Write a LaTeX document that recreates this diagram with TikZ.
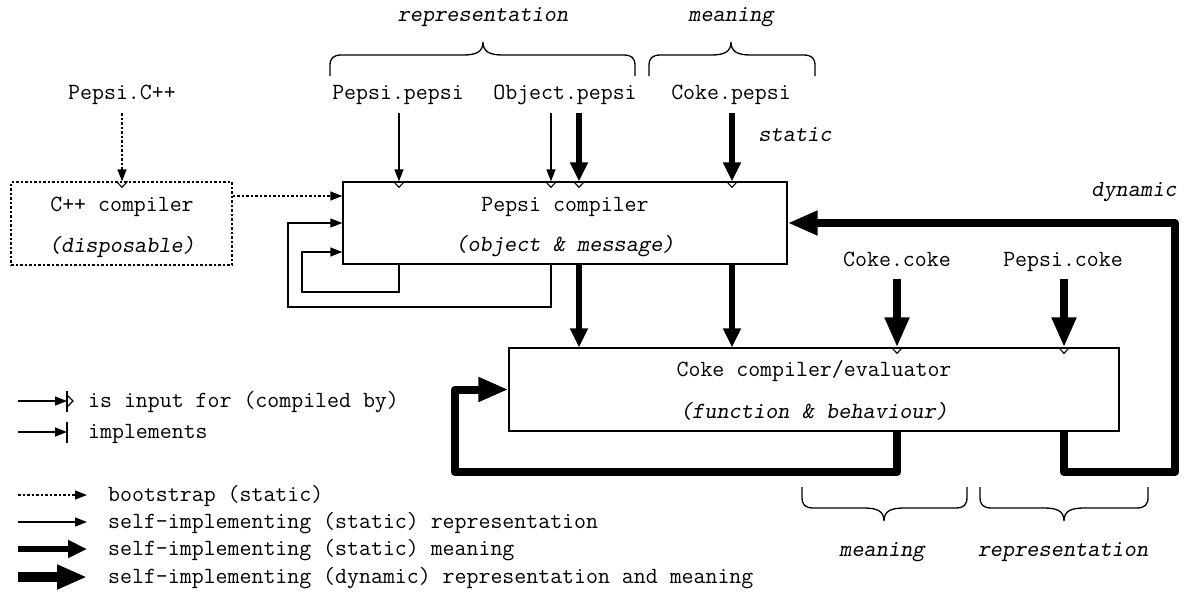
\documentclass[tikz,border=0pt]{standalone}
\usepackage{fontspec}
\newfontfamily\slmono{lmmonoslant10-regular.otf}
\usetikzlibrary{arrows.meta,calc}
\newcommand\bracefig[5]{% x1 xm x2 y0 s
 \draw[bracest] (#1,#4) -- (#1,{#4+(#5)*10}) .. controls (#1,{#4+(#5)*18}) and ({#1+3},{#4+(#5)*21}) .. ({#1+12},{#4+(#5)*21}) -- ({#2-20},{#4+(#5)*21}) .. controls ({#2-7},{#4+(#5)*21}) and (#2,{#4+(#5)*24}) .. (#2,{#4+(#5)*34}) .. controls (#2,{#4+(#5)*24}) and ({#2+7},{#4+(#5)*21}) .. ({#2+20},{#4+(#5)*21}) -- ({#3-12},{#4+(#5)*21}) .. controls ({#3-3},{#4+(#5)*21}) and (#3,{#4+(#5)*18}) .. (#3,{#4+(#5)*10}) -- (#3,#4);}
\begin{document}
\begin{tikzpicture}[x=1pt,y=-1pt,
  txt/.style={font=\ttfamily\fontsize{23.2}{26}\selectfont, inner sep=0pt, anchor=base},
  itxt/.style={txt, font=\slmono\fontsize{23.2}{26}\selectfont},
  ltxt/.style={txt, anchor=base west},
  box/.style={draw, line width=1.3pt, inner sep=0pt, fill=white},
  dotbox/.style={box, dash pattern=on 2.5pt off 2pt},
  thinarr/.style={line width=1.3pt, -{Triangle[length=12pt,width=9pt]}},
  dotarr/.style={thinarr, dash pattern=on 2.5pt off 2pt},
  medarr/.style={line width=5.5pt, -{Triangle[length=19pt,width=17pt]}},
  bigarr/.style={line width=8pt, line join=round, -{Triangle[length=30pt,width=23pt]}},
  legbig/.style={line width=9.5pt, -{Triangle[length=30pt,width=23pt]}},
  thinln/.style={line width=1.3pt},
  bracest/.style={line width=1.3pt},
  pics/notch/.style={code={\draw[line width=1.1pt] (-5.5,0) -- (0,6) -- (5.5,0);}}
]
\useasboundingbox (0,0) rectangle (1186,592);

% boxes
\node[box, minimum width=444pt, minimum height=82pt] (Pc) at (565,223) {};
\node[box, minimum width=610pt, minimum height=83pt] (Coke) at (814,389.5) {};
\node[dotbox, minimum width=221pt, minimum height=83pt] (Cxx) at (121.5,223.5) {};

\node[txt] (PcT1) at (565,211) {Pepsi compiler};
\node[itxt] (PcT2) at (565,251) {(object \& message)};
\node[txt] (CkT1) at (814,376) {Coke compiler/evaluator};
\node[itxt] (CkT2) at (814,418) {(function \& behaviour)};
\node[txt] (CxT1) at (122,211) {C++ compiler};
\node[itxt] (CxT2) at (122,252) {(disposable)};

% labels
\node[txt] (pcpp) at (122,99) {Pepsi.C++};
\node[txt] (pp) at (398,99) {Pepsi.pepsi};
\node[txt] (op) at (565,99) {Object.pepsi};
\node[txt] (cp) at (731,99) {Coke.pepsi};
\node[itxt] (rep1) at (483,21) {representation};
\node[itxt] (mean1) at (731,21) {meaning};
\node[itxt] (stat) at (795,141) {static};
\node[itxt] (dyn) at (1134,196) {dynamic};
\node[txt] (cc) at (897,266) {Coke.coke};
\node[txt] (pc) at (1063,266) {Pepsi.coke};
\node[itxt] (mean2) at (882,556) {meaning};
\node[itxt] (rep2) at (1063,556) {representation};

% braces
\bracefig{330}{483}{635}{76}{-1}
\bracefig{649}{731}{815}{76}{-1}
\bracefig{802}{884}{967}{487}{1}
\bracefig{980}{1064}{1148}{487}{1}

% start coordinates
\coordinate (s0) at ($(pcpp.base)+(0,14)$);
\coordinate (s1) at ($(pp.base)+(1,14)$);
\coordinate (s2) at ($(op.base)+(-14,14)$);
\coordinate (s3) at ($(op.base)+(14,14)$);
\coordinate (s4) at ($(cp.base)+(1,14)$);
\coordinate (k1) at ($(cc.base)+(0,13)$);
\coordinate (k2) at ($(pc.base)+(1,13)$);
\coordinate (lp1) at (302,292);
\coordinate (lp2) at (288,307);
\coordinate (lp3) at (455,472);
\coordinate (lp4) at (1175,472);

% bootstrap
\draw[dotarr] (s0) -- (s0 |- Cxx.north);
\draw[dotarr] (Cxx.east |- 0,196) -- (Pc.west |- 0,196);

% inputs to Pepsi compiler
\draw[thinarr] (s1) -- (s1 |- Pc.north);
\draw[thinarr] (s2) -- (s2 |- Pc.north);
\draw[medarr] (s3) -- (s3 |- Pc.north);
\draw[medarr] (s4) -- (s4 |- Pc.north);

% self loops
\draw[thinarr] (s1 |- Pc.south) |- (lp1) |- ([yshift=-29pt]Pc.west);
\draw[thinarr] (s2 |- Pc.south) |- (lp2) |- (Pc.west);

% Pepsi compiler implements Coke
\draw[medarr] (s3 |- Pc.south) -- (s3 |- Coke.north);
\draw[medarr] (s4 |- Pc.south) -- (s4 |- Coke.north);

% coke inputs
\draw[bigarr] (k1) -- (k1 |- Coke.north);
\draw[bigarr] (k2) -- (k2 |- Coke.north);
\draw[bigarr] (k1 |- Coke.south) |- (lp3) |- (Coke.west);
\draw[bigarr] (k2 |- Coke.south) |- (lp4) |- (Pc.east);

% notches
\pic at (s0 |- Cxx.north) {notch};
\pic at (s1 |- Pc.north) {notch};
\pic at (s2 |- Pc.north) {notch};
\pic at (s3 |- Pc.north) {notch};
\pic at (s4 |- Pc.north) {notch};
\pic at (k1 |- Coke.north) {notch};
\pic at (k2 |- Coke.north) {notch};

% legend
\coordinate (l1a) at (18,401); \coordinate (l1b) at (67,401);
\coordinate (l2a) at (18,432); \coordinate (l2b) at (67,432);
\coordinate (l3a) at (18,495); \coordinate (l3b) at (87,495);
\coordinate (l4a) at (18,522); \coordinate (l4b) at (87,522);
\coordinate (l5a) at (18,549); \coordinate (l5b) at (87,549);
\coordinate (l6a) at (18,577); \coordinate (l6b) at (87,577);
\draw[thinarr] (l1a) -- (l1b);
\draw[thinln] ($(l1b)+(0,-10)$) -- ($(l1b)+(0,11)$);
\draw[thinln] ($(l1b)+(0,-6)$) -- ($(l1b)+(6,0)$) -- ($(l1b)+(0,6)$);
\draw[thinarr] (l2a) -- (l2b);
\draw[thinln] ($(l2b)+(0,-10)$) -- ($(l2b)+(0,11)$);
\draw[dotarr] (l3a) -- (l3b);
\draw[thinarr] (l4a) -- (l4b);
\draw[medarr] (l5a) -- (l5b);
\draw[legbig] (l6a) -- (l6b);
\node[ltxt] (lg1) at (88,407) {is input for (compiled by)};
\node[ltxt] (lg2) at (88,438) {implements};
\node[ltxt] (lg3) at (108,501) {bootstrap (static)};
\node[ltxt] (lg4) at (108,528) {self-implementing (static) representation};
\node[ltxt] (lg5) at (108,555) {self-implementing (static) meaning};
\node[ltxt] (lg6) at (108,583) {self-implementing (dynamic) representation and meaning};
\end{tikzpicture}
\end{document}
